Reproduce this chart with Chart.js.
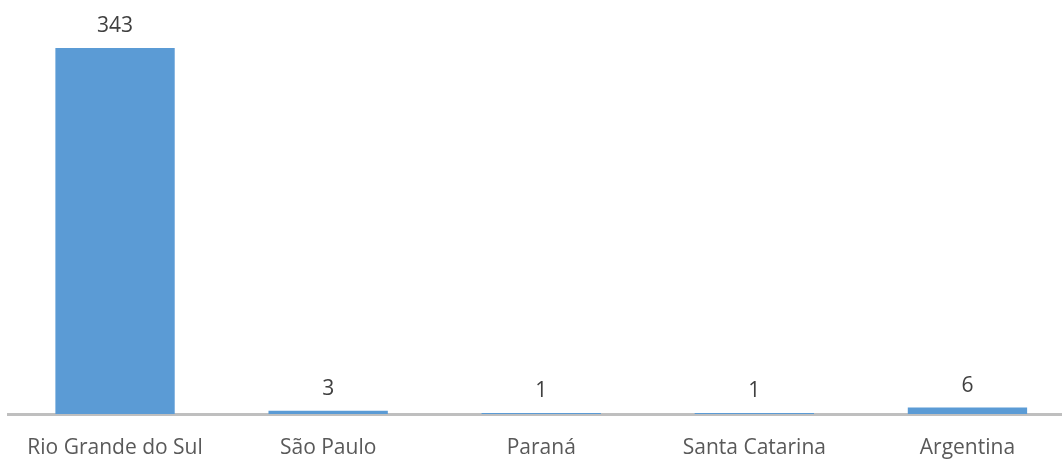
<!DOCTYPE html>
<html>
<head>
<meta charset="utf-8">
<script src="https://cdn.jsdelivr.net/npm/chart.js@4/dist/chart.umd.min.js"></script>
<style>
  html, body { margin: 0; padding: 0; background: #ffffff; overflow: hidden; }
  #wrap { width: 1074px; height: 459px; }
</style>
</head>
<body>
<div id="wrap"><canvas id="c" width="1074" height="459"></canvas></div>
<script>
const categories = ["Rio Grande do Sul", "São Paulo", "Paraná", "Santa Catarina", "Argentina"];
const values = [343, 3, 1, 1, 6];
const yMax = 380;

const valueLabels = {
  id: 'valueLabels',
  afterDatasetsDraw(chart) {
    const ctx = chart.ctx;
    const meta = chart.getDatasetMeta(0);
    ctx.save();
    ctx.font = '21px "Open Sans"';
    ctx.fillStyle = '#404040';
    ctx.textAlign = 'center';
    ctx.textBaseline = 'alphabetic';
    meta.data.forEach((bar, i) => {
      ctx.fillText(String(values[i]), bar.x, bar.y - 16);
    });
    ctx.restore();
  }
};

new Chart(document.getElementById('c'), {
  type: 'bar',
  data: {
    labels: categories,
    datasets: [{
      data: values,
      backgroundColor: '#5b9bd5',
      borderWidth: 0,
      categoryPercentage: 1,
      barPercentage: 0.56
    }]
  },
  options: {
    responsive: false,
    animation: false,
    layout: { padding: { left: 8.5, right: 0, top: 8.5, bottom: 0 } },
    plugins: { legend: { display: false }, tooltip: { enabled: false } },
    scales: {
      x: {
        grid: { display: false },
        border: { display: true, color: '#bfbfbf', width: 3 },
        ticks: { color: '#595959', font: { family: '"Open Sans"', size: 21 }, padding: 13, maxRotation: 0 },
        afterFit(scale) { scale.height = 45; }
      },
      y: {
        display: false,
        min: 0,
        max: yMax
      }
    }
  },
  plugins: [valueLabels]
});
</script>
</body>
</html>
